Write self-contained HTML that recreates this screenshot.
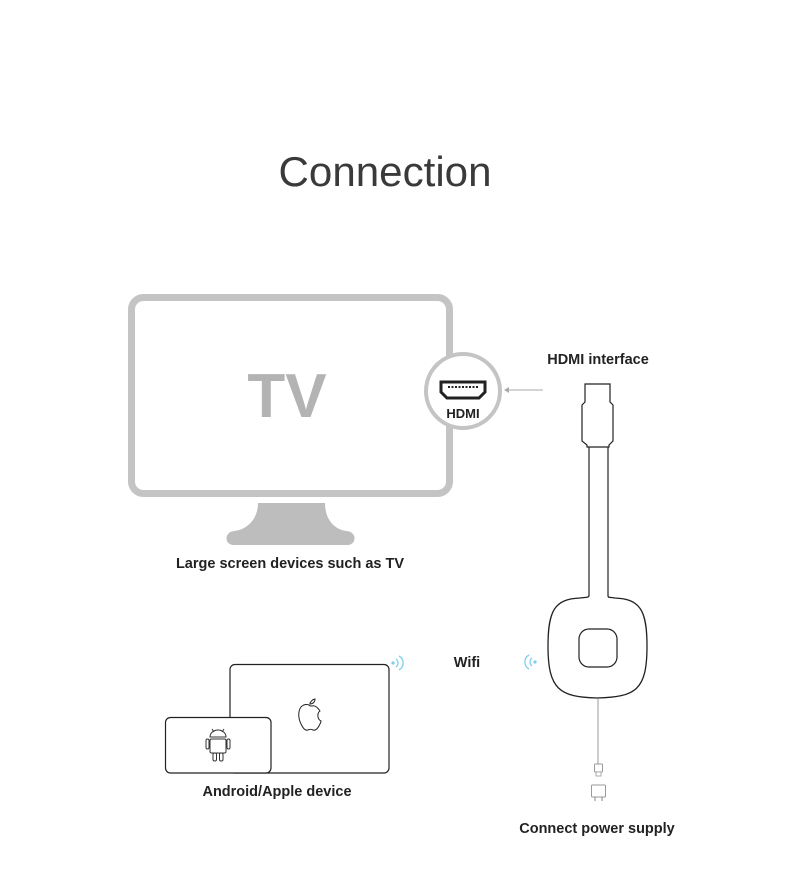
<!DOCTYPE html>
<html><head><meta charset="utf-8"><style>
html,body{margin:0;padding:0;background:#fff;}
svg{display:block;}
text{font-family:"Liberation Sans",sans-serif;}
</style></head><body>
<svg width="790" height="881" viewBox="0 0 790 881" xmlns="http://www.w3.org/2000/svg">
<text x="385" y="186" text-anchor="middle" font-size="42" fill="#3a3a3a" textLength="213" lengthAdjust="spacingAndGlyphs">Connection</text>

<!-- TV -->
<rect x="131.5" y="297.5" width="318" height="196" rx="12" fill="#fff" stroke="#c4c4c4" stroke-width="7"/>
<path d="M258 503 L325 503 C325 520 335 530 347 531 C357 532 357 545 347 545 L234 545 C224 545 224 532 234 531 C246 530 258 520 258 503 Z" fill="#bdbdbd"/>
<text x="287" y="417" text-anchor="middle" font-size="62" font-weight="bold" fill="#b3b3b3">TV</text>
<text x="290" y="568" text-anchor="middle" font-size="14.5" font-weight="bold" fill="#222">Large screen devices such as TV</text>

<!-- HDMI circle -->
<circle cx="463" cy="391" r="37" fill="#fff" stroke="#c4c4c4" stroke-width="4"/>
<path d="M441 382 H485 V392 L479 398 H447 L441 392 Z" fill="none" stroke="#222" stroke-width="3"/>
<line x1="448" y1="387" x2="478" y2="387" stroke="#222" stroke-width="2" stroke-dasharray="2 1.5"/>
<text x="463" y="418" text-anchor="middle" font-size="13" font-weight="bold" fill="#222">HDMI</text>
<line x1="543" y1="390" x2="505" y2="390" stroke="#aaa" stroke-width="1"/>
<path d="M504 390 L509 387 L509 393 Z" fill="#aaa"/>
<text x="598" y="364" text-anchor="middle" font-size="14.5" font-weight="bold" fill="#222">HDMI interface</text>

<!-- dongle -->
<path d="M585 384 H610 V402 L613 405 V441 L609 445 V447 H587 V445 L582 441 V405 L585 402 Z" fill="#fff" stroke="#222" stroke-width="1.2"/>
<path d="M589 447 V595 M608 447 V595" stroke="#222" stroke-width="1.2" fill="none"/>
<path d="M589 595 C589 598 587 597 580 598 C555 599 548 610 548 646 C548 690 560 697 597 698 C636 697 647 690 647 646 C647 610 640 599 615 598 C608 597 608 598 608 595" fill="#fff" stroke="#222" stroke-width="1.3"/>
<rect x="579" y="629" width="38" height="38" rx="10" fill="#fff" stroke="#222" stroke-width="1.2"/>
<line x1="598" y1="699" x2="598" y2="764" stroke="#aaa" stroke-width="1.2"/>
<rect x="594.5" y="764" width="8" height="8" rx="1" fill="#fff" stroke="#999" stroke-width="1"/>
<rect x="596" y="772" width="5" height="4" fill="#fff" stroke="#999" stroke-width="0.8"/>
<rect x="591.5" y="785" width="14" height="12" rx="1" fill="#fff" stroke="#999" stroke-width="1"/>
<path d="M595 797 V801 M602 797 V801" stroke="#999" stroke-width="1.2"/>
<text x="597" y="833" text-anchor="middle" font-size="14.5" font-weight="bold" fill="#222">Connect power supply</text>

<!-- wifi -->
<text x="467" y="667" text-anchor="middle" font-size="14.5" font-weight="bold" fill="#222">Wifi</text>
<g stroke="#7fd0ec" stroke-width="1.3" fill="none">
<circle cx="393" cy="663" r="1" fill="#7fd0ec"/>
<path d="M396 659 A5 5 0 0 1 396 667"/>
<path d="M399 656 A8 8 0 0 1 399 670"/>
<circle cx="535" cy="662" r="1" fill="#7fd0ec"/>
<path d="M532 658 A5 5 0 0 0 532 666"/>
<path d="M529 655 A8 8 0 0 0 529 669"/>
</g>

<!-- devices -->
<rect x="230" y="664.5" width="159" height="108.5" rx="5" fill="#fff" stroke="#222" stroke-width="1.2"/>
<rect x="165.5" y="717.5" width="105.5" height="55.5" rx="5" fill="#fff" stroke="#222" stroke-width="1.2"/>
<path d="M310 703 C312 700 314 699 315 699 C315 702 313 704 310 704 Z M309 705 C306 704 303 705 301 707 C298 711 298 718 301 724 C303 728 305 731 308 730 C310 729 311 729 313 730 C316 731 318 728 320 724 C321 722 321 721 321 721 C317 719 317 713 320 711 C318 708 315 705 312 706 C310 706 310 706 309 705 Z" fill="#fff" stroke="#222" stroke-width="1"/>
<g fill="#fff" stroke="#333" stroke-width="1">
<path d="M210 737 A8 7 0 0 1 226 737 Z"/>
<rect x="210" y="739" width="16" height="14" rx="1.5"/>
<rect x="206" y="739" width="3" height="10" rx="1.5"/>
<rect x="227" y="739" width="3" height="10" rx="1.5"/>
<rect x="213" y="753" width="3.5" height="8" rx="1.5"/>
<rect x="219.5" y="753" width="3.5" height="8" rx="1.5"/>
<path d="M212 729 L214 732 M224 729 L222 732"/>
</g>
<text x="277" y="796" text-anchor="middle" font-size="14.5" font-weight="bold" fill="#222">Android/Apple device</text>
</svg>
</body></html>
